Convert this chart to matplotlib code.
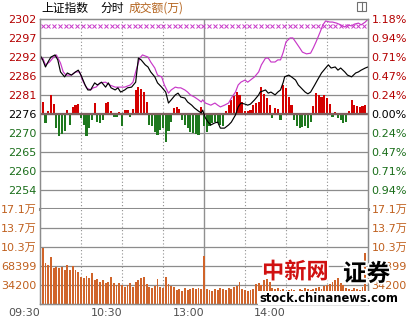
import numpy as np
import matplotlib
matplotlib.use("Agg")
import matplotlib.pyplot as plt
from matplotlib import patheffects
from matplotlib.patches import Rectangle
from matplotlib.lines import Line2D

plt.rcParams['font.family'] = ['DejaVu Sans', 'Noto Sans CJK SC']

# ---- data ----
base = 2276.0          # previous close, 0.00%
span = 26.86           # 1.18% of base

left_labels = ["2302", "2297", "2292", "2286", "2281", "2276", "2270", "2265", "2260", "2254"]
right_labels = ["1.18%", "0.94%", "0.71%", "0.47%", "0.24%", "0.00%", "0.24%", "0.47%", "0.71%", "0.94%"]
vol_levels = [17.1, 13.68, 10.26, 6.84, 3.42]
vol_labels = ["17.1万", "13.7万", "10.3万", "68399", "34200"]
time_ticks = [0, 60, 120, 180]
time_labels = ["09:30", "10:30", "13:00", "14:00"]

# index (black), minutes after 09:30
price_t = [0, 2, 4, 6, 8, 11, 13, 15, 18, 20, 23, 26, 28, 30, 33, 35, 37, 40, 42, 45, 48, 50,
           52, 55, 57, 59, 62, 64, 67, 70, 72, 74, 77, 79, 81, 84, 86, 89, 92, 94, 96, 99, 101,
           103, 106, 108, 111, 113, 116, 118, 119, 121, 123, 125, 128, 130, 132, 135, 138, 140,
           143, 145, 147, 150, 152, 154, 157, 160, 161, 165, 167, 169, 172, 174, 176, 178, 179,
           182, 184, 187, 189, 191, 194, 196, 198, 201, 203, 206, 209, 211, 213, 216, 218, 220,
           223, 225, 228, 231, 233, 235, 238, 240]
price = [2292.7, 2291.3, 2289.3, 2290.8, 2292.1, 2292.7, 2291.3, 2287.9, 2286.5, 2287.6, 2287.0,
         2287.9, 2288.4, 2287.0, 2284.2, 2282.8, 2282.8, 2284.8, 2284.2, 2285.0, 2283.6, 2284.8,
         2283.4, 2282.8, 2283.4, 2282.2, 2282.8, 2283.4, 2283.6, 2285.0, 2291.8, 2291.3, 2289.9,
         2289.3, 2287.9, 2286.5, 2284.8, 2283.6, 2282.2, 2279.1, 2280.0, 2281.4, 2281.9, 2280.8,
         2280.5, 2279.4, 2278.5, 2277.7, 2276.8, 2276.3, 2277.1, 2274.9, 2273.7, 2272.9, 2273.5,
         2273.7, 2272.0, 2272.0, 2272.9, 2273.7, 2275.7, 2278.0, 2279.1, 2278.8, 2278.5, 2278.8,
         2280.0, 2281.4, 2282.2, 2282.8, 2281.9, 2282.2, 2281.4, 2282.2, 2282.8, 2285.0, 2286.5,
         2287.0, 2286.5, 2285.6, 2284.2, 2283.4, 2282.2, 2281.7, 2282.2, 2284.2, 2285.6, 2287.6,
         2289.0, 2289.9, 2289.0, 2289.3, 2288.4, 2289.0, 2287.9, 2287.0, 2286.5, 2287.6, 2287.9,
         2288.4, 2289.0, 2289.3]

# magenta line
avg_t = [0, 2, 4, 7, 10, 12, 15, 17, 19, 23, 26, 29, 31, 34, 37, 39, 41, 44, 48, 51, 55, 59,
         62, 66, 68, 70, 73, 75, 79, 81, 84, 86, 89, 91, 94, 96, 99, 101, 103, 106, 108, 110,
         113, 116, 118, 119, 121, 125, 128, 130, 132, 135, 138, 140, 143, 145, 147, 150, 152,
         154, 157, 160, 162, 165, 167, 169, 172, 174, 176, 178, 180, 183, 185, 187, 190, 192,
         195, 198, 200, 202, 205, 207, 209, 212, 214, 217, 220, 223, 225, 228, 230, 233, 235,
         238, 240]
avg = [2291.3, 2291.8, 2289.9, 2290.7, 2292.1, 2292.7, 2290.4, 2287.9, 2287.0, 2287.0, 2287.9,
       2287.9, 2285.6, 2283.4, 2282.8, 2283.4, 2283.6, 2284.8, 2285.0, 2284.2, 2283.6, 2283.6,
       2283.6, 2284.2, 2285.0, 2287.9, 2291.8, 2292.7, 2292.1, 2290.7, 2289.0, 2287.0, 2286.5,
       2284.2, 2281.9, 2282.8, 2283.6, 2283.4, 2283.4, 2282.8, 2282.2, 2281.4, 2280.8, 2280.0,
       2279.4, 2280.0, 2279.1, 2278.5, 2279.1, 2278.5, 2278.0, 2278.5, 2279.1, 2280.5, 2282.2,
       2284.2, 2285.0, 2285.6, 2285.0, 2285.6, 2286.5, 2287.9, 2289.9, 2291.8, 2291.8, 2290.7,
       2290.7, 2291.3, 2291.3, 2293.5, 2296.4, 2297.5, 2297.5, 2296.4, 2294.7, 2293.5, 2293.0,
       2293.2, 2294.7, 2296.4, 2299.2, 2301.2, 2302.3, 2302.0, 2302.0, 2301.7, 2301.2, 2300.6,
       2301.2, 2300.9, 2301.4, 2301.7, 2301.2, 2302.0, 2302.8]

mark_level = 2300.9

# red/green strength bars, one per 2 minutes (index points from base)
strength = [7.4, 3.4, -2.5, 0.8, 5.4, 2.8, -4.0, -6.2, -5.7, -4.8,
            1.1, -3.1, 2.0, 2.5, 2.8, -1.1, -3.1, -6.2, -4.0, -1.7,
            3.1, -2.3, -2.5, -1.7, 3.1, 3.4, 0.8, -0.8, -0.8, 0.6,
            -3.4, 1.1, 1.1, -0.8, 1.4, 6.8, 7.6, 7.1, 6.2, 3.4,
            -3.1, -3.4, -5.1, -5.9, -4.5, -4.0, -7.9, -4.8, -2.3, 1.7,
            2.0, 1.4, -1.7, -3.1, -4.0, -5.1, -5.4, -5.7, -5.9, 2.0,
            -3.4, -5.1, -3.4, -2.5, -2.3, -2.5, -3.1, -3.4, 0.8, 2.5,
            4.0, 5.1, 6.2, 5.4, 3.4, 0.8, 0.8, 1.1, 2.5, 3.1,
            3.4, 7.6, 5.7, 4.5, 2.5, -1.1, 1.7, 1.4, -1.7, 8.2,
            7.4, 4.8, 2.5, -1.7, -3.4, -4.0, -3.7, -3.4, -4.0, -2.3,
            2.3, 5.9, 5.4, 4.8, 5.4, 4.5, 2.8, -0.8, 0.6, -1.1,
            -1.7, -2.5, -2.3, 0.8, 4.0, 2.5, 2.3, 2.0, 2.3, 2.5]

# turnover per 2 minutes, in 万
volume = [15.84, 10.08, 7.38, 7.02, 8.46, 6.48, 6.66, 6.48, 6.66, 6.12,
          7.02, 6.12, 6.84, 6.12, 5.76, 4.86, 4.68, 5.04, 4.68, 5.58,
          4.32, 4.50, 3.96, 4.32, 3.78, 3.96, 4.86, 3.78, 3.42, 3.78,
          3.42, 3.06, 3.42, 3.78, 3.06, 3.96, 4.32, 4.68, 4.86, 3.60,
          3.06, 2.88, 3.24, 4.50, 3.06, 2.88, 4.86, 3.60, 3.24, 3.06,
          2.52, 2.70, 2.34, 2.88, 2.52, 2.70, 2.88, 2.70, 2.88, 2.70,
          8.64, 2.70, 2.52, 2.34, 2.70, 2.52, 2.88, 2.70, 2.52, 2.88,
          2.70, 3.06, 3.24, 3.96, 2.70, 2.52, 2.34, 2.52, 2.70, 3.60,
          3.78, 3.42, 4.32, 4.50, 3.96, 2.88, 2.70, 2.88, 2.52, 2.70,
          2.34, 2.52, 2.70, 2.52, 2.34, 2.70, 2.52, 2.88, 2.70, 2.52,
          2.70, 2.88, 3.06, 2.70, 3.24, 3.42, 3.60, 3.96, 4.32, 4.68,
          3.78, 3.42, 2.88, 2.70, 2.52, 2.88, 2.70, 2.52, 3.06, 9.18]

# ---- colours ----
red = '#b40000'
green = '#1a6e1a'
brown = '#c0601e'
grid_c = '#8c8c8c'
magenta = '#c838c8'

W, H = 411, 319
fig = plt.figure(figsize=(W / 100, H / 100), dpi=100)
fig.patch.set_facecolor('white')

ax1 = fig.add_axes([40 / W, 1 - 209 / H, 328 / W, 190 / H])
ax2 = fig.add_axes([40 / W, 1 - 304 / H, 328 / W, 95 / H])

levels = [base + span - k * span / 5 for k in range(10)]
slot_t = np.arange(len(strength)) * 2

# price panel
ax1.set_xlim(0, 240)
ax1.set_ylim(base - span, base + span)
for lv in levels[1:]:
    ax1.axhline(lv, color=grid_c, lw=0.9, zorder=0)
for t in [30, 60, 90, 150, 180, 210]:
    ax1.axvline(t, color='#909090', lw=0.8, ls=(0, (1, 2)), zorder=0)
ax1.axvline(120, color='#909090', lw=1.0, zorder=0)

s = np.array(strength)
ax1.bar(slot_t[s > 0], s[s > 0], bottom=base, width=1.6, color='#d40000', lw=0, zorder=1)
ax1.bar(slot_t[s <= 0], s[s <= 0], bottom=base, width=1.6, color='#1e781e', lw=0, zorder=1)
ax1.axhline(base, color='#806060', lw=1.6, zorder=2)

ax1.plot(avg_t, avg, color=magenta, lw=0.85, zorder=3)
ax1.plot(price_t, price, color='black', lw=0.85, zorder=4)
mark_t = np.arange(2, 240, 4.2)
ax1.plot(mark_t, [mark_level] * len(mark_t), 'x', color=magenta, ms=3.0, mew=0.7, zorder=3)

ax1.set_yticks(levels)
ax1.set_yticklabels(left_labels)
ax1.set_xticks([])
ax1.tick_params(axis='y', length=0, pad=2.5, labelsize=8)
for i, lab in enumerate(ax1.get_yticklabels()):
    lab.set_color(red if i < 5 else ('black' if i == 5 else green))

axr = ax1.twinx()
axr.set_ylim(ax1.get_ylim())
axr.set_yticks(levels)
axr.set_yticklabels(right_labels)
axr.tick_params(axis='y', length=0, pad=2.5, labelsize=8)
for i, lab in enumerate(axr.get_yticklabels()):
    lab.set_color(red if i < 5 else ('black' if i == 5 else green))

for a in (ax1, axr):
    for sp in a.spines.values():
        sp.set_color(grid_c)
        sp.set_linewidth(0.9)
ax1.spines['bottom'].set_linewidth(2.2)
axr.spines['bottom'].set_visible(False)

# volume panel
ax2.set_xlim(0, 240)
ax2.set_ylim(0, 17.1)
for lv in vol_levels[1:]:
    ax2.axhline(lv, color=grid_c, lw=0.9, zorder=0)
for t in [30, 60, 90, 150, 180, 210]:
    ax2.axvline(t, color='#909090', lw=0.8, ls=(0, (1, 2)), zorder=0)
ax2.axvline(120, color='#909090', lw=1.0, zorder=0)
ax2.bar(slot_t, volume, width=1.35, color='#d0642a', lw=0, zorder=1)

ax2.set_yticks(vol_levels)
ax2.set_yticklabels(vol_labels)
ax2.tick_params(axis='y', length=0, pad=2.5, labelsize=8, labelcolor=brown)
ax2.tick_params(axis='x', length=0, pad=3, labelsize=8, labelcolor='#505050')
ax2.set_xticks(time_ticks)
ax2.set_xticklabels(time_labels, ha='right')
ax2r = ax2.twinx()
ax2r.set_ylim(0, 17.1)
ax2r.set_yticks(vol_levels)
ax2r.set_yticklabels(vol_labels)
ax2r.tick_params(axis='y', length=0, pad=2.5, labelsize=8, labelcolor=brown)
for a in (ax2, ax2r):
    for sp in a.spines.values():
        sp.set_color(grid_c)
        sp.set_linewidth(0.9)
ax2.spines['top'].set_visible(False)
ax2r.spines['top'].set_visible(False)

# header
cjk = ['Noto Sans CJK SC', 'DejaVu Sans']
fig.text(41 / W, 1 - 8 / H, "上证指数", family=cjk, fontsize=8.5, va='center', color='black')
fig.text(100 / W, 1 - 8 / H, "分时", family=cjk, fontsize=8.5, va='center', color='black')
fig.text(129 / W, 1 - 8 / H, "成交额(万)", family=cjk, fontsize=8.5, va='center', color='#b4641e')

# small icon top right
fig.add_artist(Rectangle((357 / W, 1 - 11 / H), 9 / W, 9 / H, transform=fig.transFigure,
                         fill=False, ec='#707070', lw=0.8))
fig.add_artist(Line2D([362 / W, 362 / W], [1 - 11 / H, 1 - 2 / H], transform=fig.transFigure,
                      color='#707070', lw=0.8))

# watermark
halo = [patheffects.withStroke(linewidth=2.5, foreground='white')]
fig.text(262 / W, 1 - 272 / H, "中新网", family=cjk, fontsize=16, weight='bold',
         color='#d01010', va='center', path_effects=halo)
fig.text(343 / W, 1 - 274 / H, "证券", family=cjk, fontsize=17, weight='black',
         color='black', va='center', path_effects=halo)
fig.text(259 / W, 1 - 298 / H, "stock.chinanews.com", fontsize=8.3, weight='bold',
         color='black', va='center',
         bbox=dict(facecolor='white', edgecolor='none', pad=0.5))

fig.savefig("out.png", dpi=100)
